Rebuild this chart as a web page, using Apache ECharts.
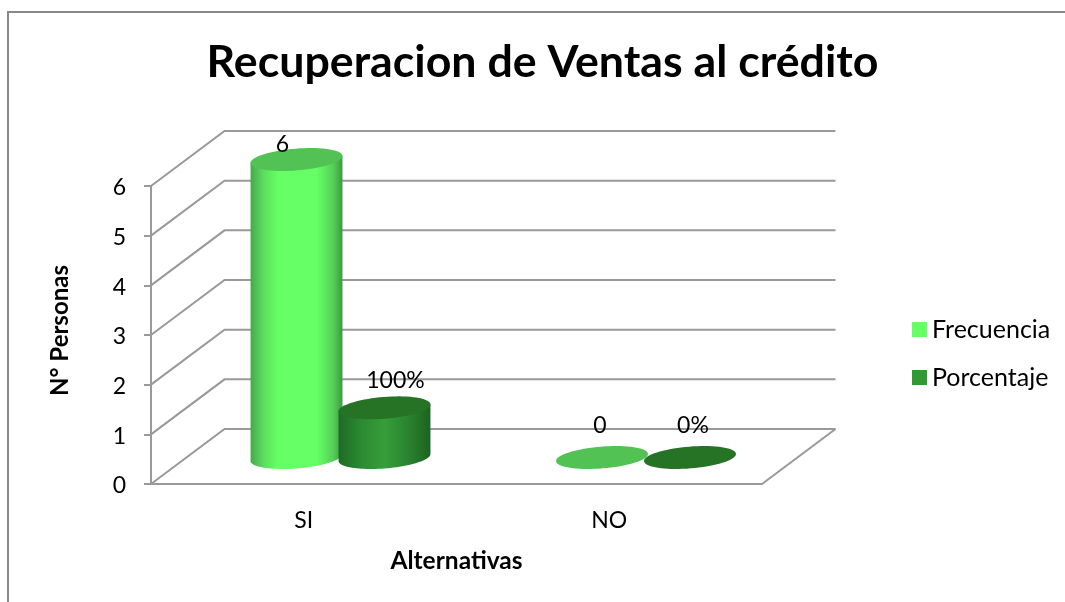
<!DOCTYPE html>
<html><head><meta charset="utf-8">
<style>html,body{margin:0;padding:0;background:#fff}#c{width:1065px;height:602px}</style>
<script src="https://cdn.jsdelivr.net/npm/echarts@6/dist/echarts.min.js"></script>
</head><body><div id="c"></div>
<script>
const categories = ['SI', 'NO'];
const frecuencia = [6, 0];
const porcentaje = [1, 0];
const frecuenciaLabels = ['6', '0'];
const porcentajeLabels = ['100%', '0%'];
const yTicks = [0, 1, 2, 3, 4, 5, 6];

const FONT = 'Lato, "Open Sans", sans-serif';
const LINE = '#999999';
const DEPTH = [73.5, -55];
const RX = 46.1, RY = 10.9, TILT = 4.6 * Math.PI / 180;

function ellipsePoint(cx, cy, t) {
  return [
    cx + RX * Math.cos(t) * Math.cos(TILT) + RY * Math.sin(t) * Math.sin(TILT),
    cy - RX * Math.cos(t) * Math.sin(TILT) + RY * Math.sin(t) * Math.cos(TILT)
  ];
}
function ellipsePts(cx, cy, from, to, n) {
  const pts = [];
  for (let i = 0; i <= n; i++) pts.push(ellipsePoint(cx, cy, from + (to - from) * i / n));
  return pts;
}
const T0 = Math.atan2(RY * Math.sin(TILT), RX * Math.cos(TILT));

function grad(stops) {
  return new echarts.graphic.LinearGradient(0, 0, 1, 0, stops.map(c => ({ offset: c[0], color: c[1] })));
}

function cylinderSeries(name, values, labels, legendColor, topColor, stops, bandShift, nudges) {
  return {
    name, type: 'custom', coordinateSystem: 'cartesian2d', z: 3, clip: false,
    itemStyle: { color: legendColor },
    encode: { x: 0, y: 1 },
    data: values.map((v, i) => [i, v]),
    renderItem(params, api) {
      const i = api.value(0), v = api.value(1);
      const band = api.size([1, 0])[0];
      const base = api.coord([i, 0]);
      const top = api.coord([i, v]);
      const cx = base[0] + DEPTH[0] / 2 + band * bandShift;
      const cyB = base[1] + DEPTH[1] / 2 + 1;
      const cyT = top[1] + DEPTH[1] / 2 + 1;
      const children = [];
      if (v > 0) {
        const lower = ellipsePts(cx, cyB, T0, T0 + Math.PI, 48);
        const upper = [ellipsePoint(cx, cyT, T0 + Math.PI), ellipsePoint(cx, cyT, T0)];
        children.push({ type: 'polygon', shape: { points: lower.concat(upper) }, style: { fill: grad(stops) } });
      }
      children.push({ type: 'polygon', shape: { points: ellipsePts(cx, cyT, 0, Math.PI * 2, 72) }, style: { fill: topColor } });
      const n = nudges[params.dataIndex];
      children.push({
        type: 'text', z2: 20,
        style: { text: labels[params.dataIndex], x: cx + n[0], y: cyT + n[1], fill: '#000', font: '23px ' + FONT, align: 'center', verticalAlign: 'middle' }
      });
      return { type: 'group', children };
    }
  };
}

const option = {
  animation: false,
  backgroundColor: '#fff',
  title: {
    text: 'Recuperacion de Ventas al crédito', left: 537.5, top: 35, textAlign: 'center',
    textStyle: { fontFamily: FONT, fontSize: 44.7, fontWeight: 'bold', color: '#000' }
  },
  grid: { left: 151, right: 303, top: 186, bottom: 118, containLabel: false },
  xAxis: {
    type: 'category', data: categories,
    axisLine: { show: true, lineStyle: { color: LINE, width: 2 } },
    axisTick: { show: false },
    axisLabel: { color: '#000', fontFamily: FONT, fontSize: 23, margin: 25 },
    name: 'Alternativas', nameLocation: 'middle', nameGap: 65,
    nameTextStyle: { fontFamily: FONT, fontSize: 24.5, fontWeight: 'bold', color: '#000' }
  },
  yAxis: {
    type: 'value', min: 0, max: 6, interval: 1,
    splitLine: { show: false },
    axisLine: { show: true, lineStyle: { color: LINE, width: 2 } },
    axisTick: { show: true, length: 7, lineStyle: { color: LINE, width: 2 } },
    axisLabel: { color: '#000', fontFamily: FONT, fontSize: 23, margin: 25, verticalAlign: 'top', lineHeight: 4 },
    name: 'N° Personas', nameLocation: 'middle', nameGap: 79, nameRotate: 90,
    nameTextStyle: { fontFamily: FONT, fontSize: 24, fontWeight: 'bold', color: '#000', padding: [0, 0, 0, 9] }
  },
  legend: {
    orient: 'vertical', left: 907, top: 312, itemWidth: 15, itemHeight: 15, itemGap: 23,
    icon: 'rect', data: ['Frecuencia', 'Porcentaje'],
    textStyle: { fontFamily: FONT, fontSize: 25, color: '#000' }
  },
  graphic: [{
    type: 'polyline', silent: true,
    shape: { points: [[8, 602], [8, 12], [1065, 12]] },
    style: { fill: null, stroke: '#888', lineWidth: 2 }
  }],
  series: [
    {
      name: 'paredes', type: 'custom', coordinateSystem: 'cartesian2d', z: 1, clip: false, silent: true,
      encode: { x: 0, y: 1 },
      data: yTicks.map(t => [0, t]),
      renderItem(params, api) {
        const cs = params.coordSys, y = api.coord([0, api.value(1)])[1];
        const x0 = cs.x, x1 = cs.x + cs.width;
        const st = { stroke: LINE, lineWidth: 2, fill: null };
        const ch = [
          { type: 'polyline', shape: { points: [[x0, y], [x0 + DEPTH[0], y + DEPTH[1]], [x1 + DEPTH[0], y + DEPTH[1]]] }, style: st }
        ];
        if (params.dataIndex === 0) {
          ch.push({ type: 'line', shape: { x1, y1: y, x2: x1 + DEPTH[0], y2: y + DEPTH[1] }, style: st });
        }
        return { type: 'group', children: ch };
      }
    },
    cylinderSeries('Frecuencia', frecuencia, frecuenciaLabels, '#66FF66', '#52c254',
      [[0, '#46a84b'], [0.14, '#5cdd5f'], [0.3, '#66ff66'], [0.72, '#66ff66'], [0.9, '#55cf58'], [1, '#3f9843']],
      -0.144, [[-14, -15], [-2, -32]]),
    cylinderSeries('Porcentaje', porcentaje, porcentajeLabels, '#339933', '#267326',
      [[0, '#1e6b24'], [0.25, '#2c8a31'], [0.5, '#369e3a'], [0.75, '#2a8430'], [1, '#1c6320']],
      0.144, [[11, -27], [3, -32]])
  ]
};
echarts.init(document.getElementById('c'), null, { renderer: 'canvas' }).setOption(option);
</script></body></html>
